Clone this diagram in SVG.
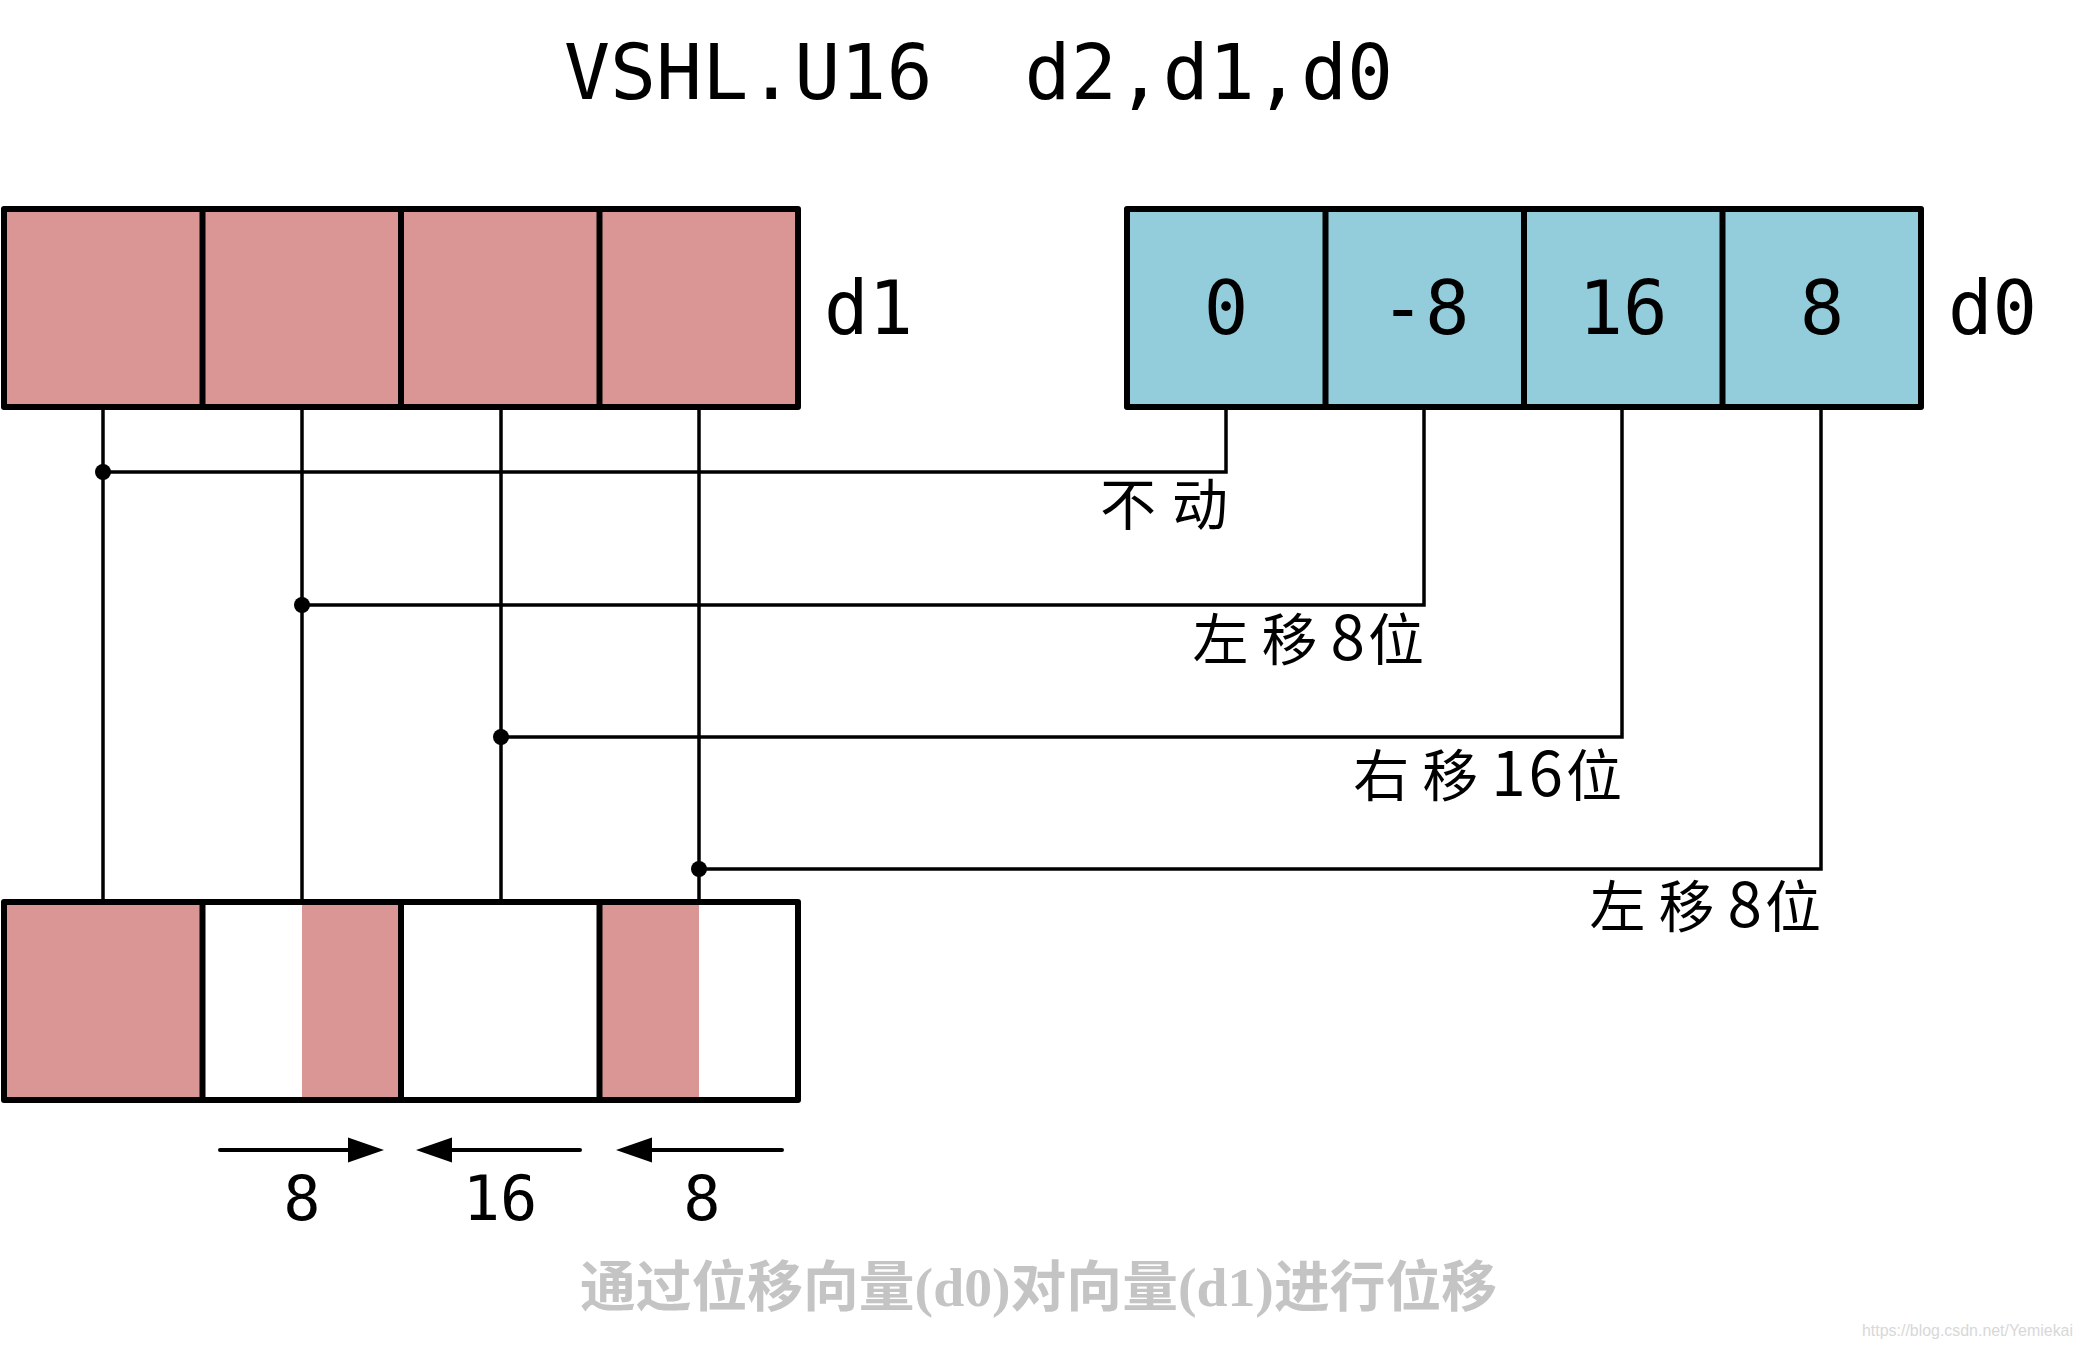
<svg xmlns="http://www.w3.org/2000/svg" width="2081" height="1349" viewBox="0 0 2081 1349">
<style>
.mono{font-family:"DejaVu Sans Mono","Liberation Mono",monospace;fill:#000}
.cjk{font-family:"Noto Sans CJK SC",sans-serif;fill:#000;font-size:56px;letter-spacing:13px}
.box{stroke:#000;stroke-width:6;stroke-linejoin:round}
.div{stroke:#000;stroke-width:6}
.wire{fill:none;stroke:#000;stroke-width:3.5}
.pink{fill:#d99694}
.blue{fill:#93cddb}
</style>
<rect width="2081" height="1349" fill="#fff"/>
<text id="title" class="mono" x="564" y="99" font-size="76.5" xml:space="preserve">VSHL.U16  d2,d1,d0</text>

<g id="d1">
<rect class="pink box" x="4" y="209" width="794" height="198"/>
<line class="div" x1="202.5" y1="209" x2="202.5" y2="407"/>
<line class="div" x1="401" y1="209" x2="401" y2="407"/>
<line class="div" x1="599.5" y1="209" x2="599.5" y2="407"/>
<text class="mono" x="824" y="334" font-size="74">d1</text>
</g>

<g id="d0">
<rect class="blue box" x="1127" y="209" width="794" height="198"/>
<line class="div" x1="1325.5" y1="209" x2="1325.5" y2="407"/>
<line class="div" x1="1524" y1="209" x2="1524" y2="407"/>
<line class="div" x1="1722.5" y1="209" x2="1722.5" y2="407"/>
<g class="mono" font-size="74" text-anchor="middle">
<text x="1226" y="334">0</text>
<text x="1425" y="334">-8</text>
<text x="1623" y="334">16</text>
<text x="1822" y="334">8</text>
</g>
<text class="mono" x="1948" y="334" font-size="74">d0</text>
</g>

<g id="d2">
<rect x="4" y="902" width="794" height="198" fill="#fff"/>
<rect class="pink" x="4" y="902" width="198.5" height="198"/>
<rect class="pink" x="302" y="902" width="99" height="198"/>
<rect class="pink" x="599.5" y="902" width="99.5" height="198"/>
<rect class="box" x="4" y="902" width="794" height="198" fill="none"/>
<line class="div" x1="202.5" y1="902" x2="202.5" y2="1100"/>
<line class="div" x1="401" y1="902" x2="401" y2="1100"/>
<line class="div" x1="599.5" y1="902" x2="599.5" y2="1100"/>
</g>

<g id="connectors">
<line class="wire" x1="103" y1="410" x2="103" y2="899"/>
<line class="wire" x1="302" y1="410" x2="302" y2="899"/>
<line class="wire" x1="501" y1="410" x2="501" y2="899"/>
<line class="wire" x1="699" y1="410" x2="699" y2="899"/>
<polyline class="wire" points="1226,410 1226,472 103,472"/>
<polyline class="wire" points="1424,410 1424,605 302,605"/>
<polyline class="wire" points="1622,410 1622,737 501,737"/>
<polyline class="wire" points="1821,410 1821,869 699,869"/>
<circle cx="103" cy="472" r="8"/>
<circle cx="302" cy="605" r="8"/>
<circle cx="501" cy="737" r="8"/>
<circle cx="699" cy="869" r="8"/>
<g class="cjk" text-anchor="end">
<text x="1244" y="525" letter-spacing="16">不动</text>
<text x="1437" y="660">左移<tspan font-size="62" letter-spacing="3">8</tspan>位</text>
<text x="1635" y="796">右移<tspan font-size="62" letter-spacing="3">16</tspan>位</text>
<text x="1834" y="927">左移<tspan font-size="62" letter-spacing="3">8</tspan>位</text>
</g>
</g>

<g id="shifts">
<g stroke="#000" stroke-width="4" stroke-linecap="round" fill="none">
<line x1="220" y1="1150" x2="356" y2="1150"/>
<line x1="580" y1="1150" x2="444" y2="1150"/>
<line x1="782" y1="1150" x2="644" y2="1150"/>
</g>
<path d="M384,1150 L348,1137.5 L348,1162.5 Z"/>
<path d="M416,1150 L452,1137.5 L452,1162.5 Z"/>
<path d="M616,1150 L652,1137.5 L652,1162.5 Z"/>
<g class="mono" font-size="62" text-anchor="middle">
<text x="302" y="1220">8</text>
<text x="500" y="1220">16</text>
<text x="702" y="1220">8</text>
</g>
</g>

<text id="caption" x="580" y="1306" font-family="Liberation Serif,'Noto Sans CJK SC',serif" font-weight="bold" font-size="55" fill="#c4c4c4" textLength="917" lengthAdjust="spacingAndGlyphs">通过位移向量(d0)对向量(d1)进行位移</text>
<text id="watermark" x="1862" y="1336" font-family="Liberation Sans,sans-serif" font-size="16" fill="#d8d8d8" textLength="211" lengthAdjust="spacingAndGlyphs">https://blog.csdn.net/Yemiekai</text>
</svg>
